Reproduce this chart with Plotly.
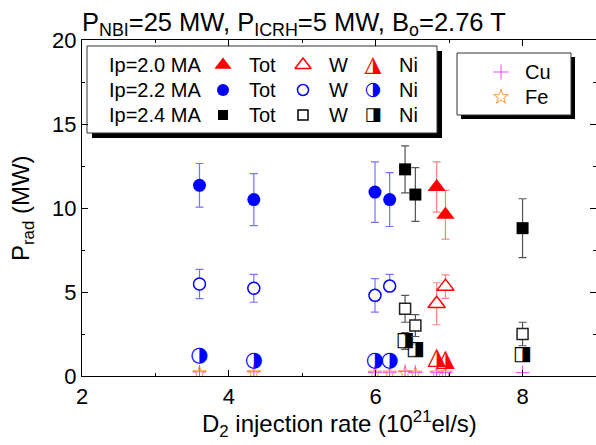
import plotly.graph_objects as go

# ---- data: radiated power vs D2 injection rate ----
# Ip = 2.0 MA
ip20_x = [6.83, 6.95]
ip20_tot = [11.25, 9.6]
ip20_tot_err = [1.5, 1.45]
ip20_w = [4.3, 5.32]
ip20_w_err = [1.25, 0.7]
ip20_ni = [1.05, 0.95]

# Ip = 2.2 MA
ip22_x = [3.6, 4.34, 5.99, 6.19]
ip22_tot = [11.35, 10.5, 10.95, 10.5]
ip22_tot_err = [1.3, 1.55, 1.8, 1.6]
ip22_w = [5.48, 5.22, 4.8, 5.35]
ip22_w_err_plus = [0.87, 0.83, 1.0, 0.7]
ip22_w_err_minus = [0.87, 0.83, 1.0, 0.3]
ip22_ni = [1.19, 0.89, 0.91, 0.91]

# Ip = 2.4 MA
ip24_x = [6.4, 6.54, 8.0]
ip24_tot = [12.3, 10.8, 8.8]
ip24_tot_err = [1.4, 1.6, 1.75]
ip24_w = [4.0, 3.0, 2.5]
ip24_w_err = [0.8, 0.65, 0.7]
ip24_ni = [2.08, 1.55, 1.25]
ip24_ni_err = [0.5, 0.3, 0.0]

# Cu and Fe contributions
cu_x = [3.6, 4.34, 5.99, 6.19, 6.4, 6.54, 6.83, 6.95, 8.0]
cu_y = [0.25, 0.25, 0.22, 0.22, 0.28, 0.22, 0.22, 0.2, 0.2]
fe_x = [3.6, 4.34, 5.99, 6.19, 6.4, 6.54, 6.83, 6.95]
fe_y = [0.18, 0.18, 0.16, 0.16, 0.18, 0.16, 0.16, 0.16]

x_ticks = [2, 4, 6, 8]
y_ticks = [0, 5, 10, 15, 20]

RED = "#ff0000"
BLUE = "#0000ff"
BLACK = "#000000"
CU_COL = "#ff44ff"
FE_COL = "#ff9933"
GLYPH_FONT = "DejaVu Sans"
FONT = "Liberation Sans, Arial, sans-serif"

# half-filled glyphs for the Ni series: (character, font size)
NI_CIRCLE = ("\u25d1", 21)
NI_SQUARE = ("\u25e8", 20)
NI_TRIANGLE = ("\u25ee", 24)

fig = go.Figure()


def err(arr, col, minus=None):
    d = dict(type="data", array=arr, color=col, thickness=1.2, width=4, visible=True)
    if minus is not None:
        d["symmetric"] = False
        d["arrayminus"] = minus
    return d


# Cu / Fe
fig.add_trace(go.Scatter(x=fe_x, y=fe_y, mode="markers", hoverinfo="skip",
                         marker=dict(symbol="star-open", size=10, color=FE_COL, line=dict(width=1))))
fig.add_trace(go.Scatter(x=cu_x, y=cu_y, mode="markers", hoverinfo="skip",
                         marker=dict(symbol="cross-thin-open", size=10, color=CU_COL, line=dict(width=1))))

# Ni (half-filled glyphs)
fig.add_trace(go.Scatter(x=ip22_x, y=ip22_ni, mode="text", text=[NI_CIRCLE[0]] * len(ip22_x),
                         textposition="middle center", hoverinfo="skip",
                         textfont=dict(family=GLYPH_FONT, size=NI_CIRCLE[1], color=BLUE)))
fig.add_trace(go.Scatter(x=ip24_x, y=ip24_ni, mode="markers+text", text=[NI_SQUARE[0]] * len(ip24_x),
                         textposition="middle center", hoverinfo="skip",
                         error_y=err(ip24_ni_err, "#555555"),
                         marker=dict(symbol="square", size=11, color="white", line=dict(width=0)),
                         textfont=dict(family=GLYPH_FONT, size=NI_SQUARE[1], color=BLACK)))
fig.add_trace(go.Scatter(x=ip20_x, y=ip20_ni, mode="text", text=[NI_TRIANGLE[0]] * len(ip20_x),
                         textposition="middle center", hoverinfo="skip",
                         textfont=dict(family=GLYPH_FONT, size=NI_TRIANGLE[1], color=RED)))

# W (open markers)
fig.add_trace(go.Scatter(x=ip22_x, y=ip22_w, mode="markers", hoverinfo="skip",
                         error_y=err(ip22_w_err_plus, "rgba(70,70,255,0.75)", ip22_w_err_minus),
                         marker=dict(symbol="circle", size=12, color="white", line=dict(color=BLUE, width=1.5))))
fig.add_trace(go.Scatter(x=ip24_x, y=ip24_w, mode="markers", hoverinfo="skip",
                         error_y=err(ip24_w_err, "#555555"),
                         marker=dict(symbol="square", size=11, color="white", line=dict(color="#222222", width=1.5))))
fig.add_trace(go.Scatter(x=ip20_x, y=ip20_w, mode="markers", hoverinfo="skip",
                         error_y=err(ip20_w_err, "rgba(255,90,90,0.75)"),
                         marker=dict(symbol="triangle-up", size=15, color="white", line=dict(color=RED, width=1.5))))

# Tot (filled markers)
fig.add_trace(go.Scatter(x=ip22_x, y=ip22_tot, mode="markers", hoverinfo="skip",
                         error_y=err(ip22_tot_err, "rgba(70,70,255,0.75)"),
                         marker=dict(symbol="circle", size=13, color=BLUE, line=dict(width=0))))
fig.add_trace(go.Scatter(x=ip24_x, y=ip24_tot, mode="markers", hoverinfo="skip",
                         error_y=err(ip24_tot_err, "#555555"),
                         marker=dict(symbol="square", size=12, color=BLACK, line=dict(width=0))))
fig.add_trace(go.Scatter(x=ip20_x, y=ip20_tot, mode="markers", hoverinfo="skip",
                         error_y=err(ip20_tot_err, "rgba(255,90,90,0.75)"),
                         marker=dict(symbol="triangle-up", size=16, color=RED, line=dict(width=0))))

# ---- legend boxes, drawn on an overlay axis in pixel units of the plot area ----
PX_L, PX_R, PX_T, PX_B = 82, 596, 40, 376
shapes = []
annots = []


def box(x0, y0, x1, y1, off):
    shapes.append(dict(type="rect", xref="x2", yref="y2", x0=x0 + off, x1=x1 + off, y0=y0 + off, y1=y1 + off,
                       fillcolor="black", line=dict(width=0), layer="below"))
    shapes.append(dict(type="rect", xref="x2", yref="y2", x0=x0, x1=x1, y0=y0, y1=y1,
                       fillcolor="white", line=dict(color="#333333", width=1), layer="below"))


box(87, 46, 437, 133, 5)
box(457, 53, 571, 115, 4)

leg_rows = ["Ip=2.0 MA", "Ip=2.2 MA", "Ip=2.4 MA"]
row_y = [65, 90, 115]
row_col = [RED, BLUE, BLACK]
tot_sym = [("triangle-up", 15), ("circle", 12), ("square", 10)]
w_sym = [("triangle-up", 14), ("circle", 11), ("square", 10)]
ni_glyph = [NI_TRIANGLE, NI_CIRCLE, NI_SQUARE]
col_x = {"label": 107, "tot": 223, "tot_t": 247, "w": 303, "w_t": 327, "ni": 373, "ni_t": 397}
LEG_FONT = dict(family=FONT, size=20, color="black")

for i, lab in enumerate(leg_rows):
    y = row_y[i]
    c = row_col[i]
    annots.append(dict(xref="x2", yref="y2", x=col_x["label"], y=y, text=lab, showarrow=False,
                       xanchor="left", yanchor="middle", font=LEG_FONT))
    for key, t in (("tot_t", "Tot"), ("w_t", "W"), ("ni_t", "Ni")):
        annots.append(dict(xref="x2", yref="y2", x=col_x[key], y=y, text=t, showarrow=False,
                           xanchor="left", yanchor="middle", font=LEG_FONT))
    fig.add_trace(go.Scatter(x=[col_x["tot"]], y=[y], xaxis="x2", yaxis="y2", mode="markers", hoverinfo="skip",
                             marker=dict(symbol=tot_sym[i][0], size=tot_sym[i][1], color=c, line=dict(width=0))))
    fig.add_trace(go.Scatter(x=[col_x["w"]], y=[y], xaxis="x2", yaxis="y2", mode="markers", hoverinfo="skip",
                             marker=dict(symbol=w_sym[i][0], size=w_sym[i][1], color="white",
                                         line=dict(color=c, width=1.5))))
    fig.add_trace(go.Scatter(x=[col_x["ni"]], y=[y], xaxis="x2", yaxis="y2", mode="text", hoverinfo="skip",
                             text=[ni_glyph[i][0]], textposition="middle center",
                             textfont=dict(family=GLYPH_FONT, size=ni_glyph[i][1] - 2, color=c)))

fig.add_trace(go.Scatter(x=[501], y=[72], xaxis="x2", yaxis="y2", mode="markers", hoverinfo="skip",
                         marker=dict(symbol="cross-thin-open", size=11, color=CU_COL, line=dict(width=1))))
fig.add_trace(go.Scatter(x=[501], y=[97], xaxis="x2", yaxis="y2", mode="markers", hoverinfo="skip",
                         marker=dict(symbol="star-open", size=11, color=FE_COL, line=dict(width=1))))
for y, t in ((72, "Cu"), (97, "Fe")):
    annots.append(dict(xref="x2", yref="y2", x=523, y=y, text=t, showarrow=False,
                       xanchor="left", yanchor="middle", font=LEG_FONT))


# ---- titles ----
def px_x(p):
    return (p - PX_L) / (PX_R - PX_L)


def px_y(p):
    return (PX_B - p) / (PX_B - PX_T)


annots.append(dict(xref="paper", yref="paper", x=px_x(294), y=px_y(24), showarrow=False,
                   xanchor="center", yanchor="middle",
                   text="P<sub>NBI</sub>=25 MW, P<sub>ICRH</sub>=5 MW, B<sub>o</sub>=2.76 T",
                   font=dict(family=FONT, size=25.5, color="black")))
annots.append(dict(xref="paper", yref="paper", x=0.5, y=px_y(424), showarrow=False,
                   xanchor="center", yanchor="middle",
                   text="D<sub>2</sub> injection rate (10<sup>21</sup>el/s)",
                   font=dict(family=FONT, size=24, color="black")))
annots.append(dict(xref="paper", yref="paper", x=px_x(22), y=0.5, showarrow=False, textangle=-90,
                   xanchor="center", yanchor="middle",
                   text="P<sub>rad</sub> (MW)",
                   font=dict(family=FONT, size=24, color="black")))

axis_common = dict(showline=True, linecolor="black", linewidth=1.3, mirror="ticks", ticks="inside",
                   ticklen=6, tickwidth=1.2, tickcolor="black", showgrid=False, zeroline=False,
                   tickfont=dict(family=FONT, size=22, color="black"))

fig.update_layout(
    width=596, height=445,
    margin=dict(l=PX_L, r=596 - PX_R, t=PX_T, b=445 - PX_B, pad=0),
    paper_bgcolor="white", plot_bgcolor="white",
    showlegend=False,
    xaxis=dict(range=[2, 9], tickvals=x_ticks, ticktext=[str(v) for v in x_ticks],
               minor=dict(dtick=1, ticks="inside", ticklen=3, tickcolor="black", tickwidth=1.2),
               **axis_common),
    yaxis=dict(range=[0, 20], tickvals=y_ticks, ticktext=[str(v) for v in y_ticks],
               minor=dict(dtick=2.5, ticks="inside", ticklen=3, tickcolor="black", tickwidth=1.2),
               **axis_common),
    xaxis2=dict(overlaying="x", range=[PX_L, PX_R], visible=False, anchor="y2"),
    yaxis2=dict(overlaying="y", range=[PX_B, PX_T], visible=False, anchor="x2"),
    shapes=shapes,
    annotations=annots,
)

fig.write_html("out.html")
